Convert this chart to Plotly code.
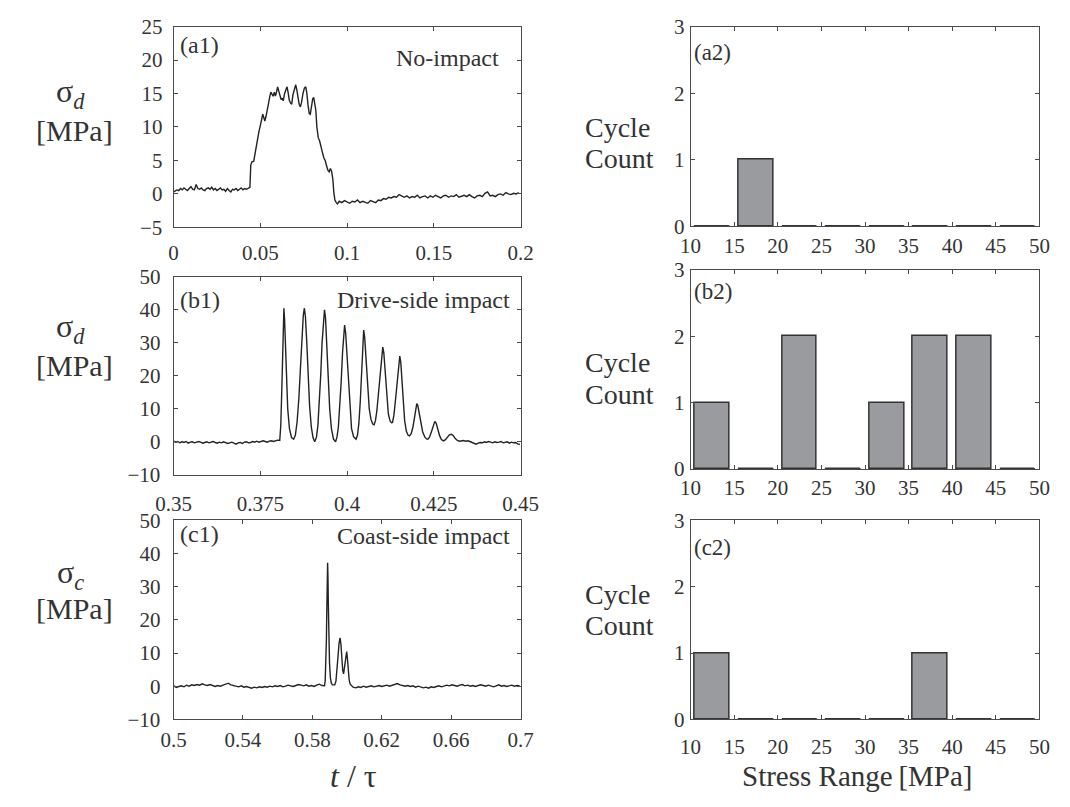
import numpy as np
import plotly.graph_objects as go

W, H = 1070, 807
SERIF = "Liberation Serif"
INK = "#222222"
AXC = "#4a4a4a"
TXT = "#333333"

# ---------------- stress histories ----------------
# (a1) no impact: baseline before the event, event samples (t, value), baseline after
a_pre_t0, a_pre_dt = 0.0, 0.001
a_pre = [0.3, 0.4, 0.6, 0.5, 0.8, 0.6, 0.9, 0.7, 0.5, 0.8, 1.1, 0.7, 0.6, 1.4, 0.8,
         0.7, 0.9, 0.6, 0.5, 0.8, 0.9, 0.7, 1.0, 0.6, 0.8, 0.5, 0.7, 0.9, 0.6, 0.7,
         0.4, 0.8, 0.5, 0.3, 0.7, 0.6, 0.8, 0.5, 0.7, 0.9, 0.6, 0.8, 0.7, 0.9, 1.0]
a_evt = [(0.0445, 4.3), (0.0452, 4.8), (0.0462, 4.9), (0.0468, 5.8), (0.0476, 7.2),
         (0.0484, 8.6), (0.0492, 9.3), (0.0500, 10.2), (0.0508, 11.0), (0.0514, 11.9),
         (0.0519, 11.5), (0.0526, 10.9), (0.0533, 11.6), (0.0540, 12.8), (0.0548, 13.6),
         (0.0555, 14.6), (0.0561, 15.2), (0.0567, 14.9), (0.0574, 14.6), (0.0581, 15.2),
         (0.0587, 14.6), (0.0594, 15.3), (0.0600, 16.0), (0.0606, 15.4), (0.0613, 14.5),
         (0.0620, 14.1), (0.0626, 14.3), (0.0632, 13.9), (0.0640, 15.0), (0.0648, 15.7),
         (0.0654, 16.0), (0.0660, 15.2), (0.0667, 14.0), (0.0674, 13.6), (0.0681, 13.4),
         (0.0688, 14.8), (0.0696, 15.8), (0.0704, 16.3), (0.0710, 15.6), (0.0717, 14.2),
         (0.0724, 13.4), (0.0731, 13.0), (0.0738, 13.7), (0.0746, 15.0), (0.0754, 15.8),
         (0.0762, 16.0), (0.0768, 15.1), (0.0775, 13.3), (0.0782, 12.0), (0.0788, 11.9),
         (0.0795, 13.2), (0.0802, 14.2), (0.0808, 14.4), (0.0813, 13.6), (0.0820, 12.5),
         (0.0826, 10.0), (0.0834, 8.4), (0.0842, 7.9), (0.0850, 6.8), (0.0858, 6.2),
         (0.0866, 5.4), (0.0874, 5.0), (0.0882, 4.2), (0.0890, 3.5), (0.0897, 3.3),
         (0.0904, 3.8), (0.0911, 3.4), (0.0918, 2.2), (0.0924, 0.2), (0.0930, -0.9),
         (0.0938, -1.3), (0.0945, -1.5)]
a_post_t0, a_post_dt = 0.0955, 0.0015
a_post = [-1.1, -1.3, -1.0, -1.2, -1.4, -1.1, -1.2, -0.9, -1.3, -1.1,
          -1.2, -1.4, -1.0, -1.2, -1.3, -0.9, -1.0, -0.7, -0.8, -0.5,
          -0.6, -0.4, -0.5, -0.1, -0.3, -0.5, -0.3, -0.6, -0.4, -0.5,
          -0.2, -0.6, -0.4, -0.3, -0.6, -0.3, -0.5, -0.2, -0.4, -0.6,
          -0.3, -0.2, -0.5, -0.3, -0.4, -0.1, -0.5, -0.3, -0.2, -0.4,
          -0.1, -0.4, -0.6, -0.3, -0.2, -0.4, 0.1, 0.3, -0.3, -0.2,
          -0.4, -0.1, 0.0, -0.2, 0.2, 0.0, -0.1, 0.1, 0.0, 0.2]

# (b1) drive-side impact
b_pre_t0, b_pre_dt = 0.35, 0.0006
b_pre = [0.2, -0.1, 0.1, -0.3, 0.0, -0.2, 0.1, -0.4, -0.1, 0.0,
         -0.3, -0.2, 0.1, -0.1, -0.4, -0.2, 0.0, -0.3, -0.1, 0.1,
         -0.2, -0.4, -0.1, -0.3, 0.0, -0.2, -0.5, -0.3, -0.1, -0.4,
         -0.7, -0.3, -0.2, -0.5, -0.1, 0.0, -0.3, -0.2, 0.1, -0.1,
         0.2, -0.1, 0.0, 0.3, 0.1, -0.1, 0.2, 0.3, 0.1, 0.4, 0.5]
b_evt = [(0.3806, 0.4), (0.3809, 5), (0.3812, 16), (0.3814, 27), (0.3816, 36), (0.3818, 40.5),
         (0.3820, 37), (0.3822, 30), (0.3825, 20), (0.3829, 10), (0.3834, 4), (0.3840, 1.3),
         (0.3846, 0.8),
         (0.3851, 2.0), (0.3856, 6), (0.3861, 13), (0.3866, 23), (0.3870, 32), (0.3874, 38.5),
         (0.3877, 40.5), (0.3880, 38), (0.3884, 30), (0.3888, 20), (0.3892, 11), (0.3897, 4.5),
         (0.3902, 1.2), (0.3907, 0.0),
         (0.3912, 1.5), (0.3916, 5), (0.3920, 11), (0.3924, 20), (0.3928, 30), (0.3932, 37.5),
         (0.3935, 40), (0.3938, 37.5), (0.3942, 29), (0.3946, 19), (0.3950, 10), (0.3955, 4),
         (0.3961, 0.8), (0.3967, 0.0),
         (0.3971, 1.5), (0.3975, 4.5), (0.3979, 10), (0.3983, 18), (0.3987, 27), (0.3990, 33),
         (0.3993, 35.4), (0.3996, 33), (0.4000, 26), (0.4004, 17), (0.4008, 9.5), (0.4013, 4),
         (0.4019, 1.5), (0.4026, 0.8),
         (0.4030, 2), (0.4034, 5.5), (0.4038, 12), (0.4041, 19), (0.4044, 27), (0.4046, 31.5),
         (0.4048, 33.9), (0.4051, 31.5), (0.4055, 24), (0.4059, 16), (0.4064, 10), (0.4069, 6.8),
         (0.4074, 5.4), (0.4078, 5.2),
         (0.4082, 6.5), (0.4086, 9.5), (0.4090, 14), (0.4094, 20), (0.4098, 25.5), (0.4101, 28),
         (0.4103, 28.7), (0.4106, 27), (0.4110, 21), (0.4114, 14), (0.4119, 8.5), (0.4124, 6.3),
         (0.4128, 5.8), (0.4131, 5.9),
         (0.4135, 8), (0.4139, 12), (0.4143, 17), (0.4147, 22), (0.4150, 25), (0.4152, 26),
         (0.4155, 24), (0.4158, 19), (0.4162, 12), (0.4166, 6.5), (0.4171, 3.2), (0.4176, 2.0),
         (0.4180, 1.8),
         (0.4185, 2.5), (0.4190, 4.5), (0.4194, 7), (0.4198, 10), (0.4201, 11.6), (0.4204, 11),
         (0.4208, 8.5), (0.4213, 5.5), (0.4218, 3.0), (0.4224, 1.5), (0.4229, 0.9), (0.4233, 0.8),
         (0.4238, 1.5), (0.4243, 3), (0.4248, 5), (0.4253, 6.2), (0.4257, 5.6), (0.4262, 3.6),
         (0.4267, 1.8), (0.4272, 0.7), (0.4278, 0.3),
         (0.4283, 0.6), (0.4289, 1.4), (0.4295, 2.1), (0.4301, 2.3), (0.4306, 1.9), (0.4312, 1.0),
         (0.4318, 0.4), (0.4324, 0.2)]
b_post_t0, b_post_dt = 0.4330, 0.0006
b_post = [0.3, 0.4, 0.2, 0.3, 0.1, -0.2, -0.6, -0.7, -0.4, -0.2,
          -0.3, 0.0, -0.2, 0.1, -0.1, -0.3, 0.0, -0.2, -0.1, 0.1,
          -0.3, -0.2, 0.0, -0.4, -0.1, -0.3, -0.2, -0.6, -0.8]

# (c1) coast-side impact
c_pre_t0, c_pre_dt = 0.5, 0.0015
c_pre = [0.2, -0.4, -0.1, 0.1, -0.2, 0.3, 0.0, 0.4, 0.2, 0.5,
         0.3, 0.7, 0.4, 0.2, 0.5, 0.1, -0.1, 0.2, 0.0, 0.3,
         0.6, 0.9, 0.4, 0.2, 0.0, -0.2, 0.1, -0.3, -0.1, -0.4,
         -0.6, -0.3, -0.5, -0.2, -0.4, -0.1, -0.3, 0.0, -0.2, 0.1,
         -0.1, 0.2, -0.2, 0.0, 0.3, 0.1, -0.1, 0.2, 0.5, 0.3,
         0.1, 0.4, 0.0, 0.2, -0.1, 0.3, 0.6, 0.2, 0.1]
c_evt = [(0.5874, 1.5), (0.5878, 6), (0.5881, 14), (0.5884, 25), (0.5886, 33), (0.5888, 37.2),
         (0.5890, 33), (0.5892, 25), (0.5895, 15), (0.5899, 7), (0.5904, 2.5), (0.5910, 0.8),
         (0.5916, 0.4), (0.5922, 0.3), (0.5929, 0.4), (0.5936, 1.5), (0.5942, 4.5), (0.5948, 9),
         (0.5954, 13), (0.5960, 14.6), (0.5965, 12.5), (0.5970, 8), (0.5975, 4.8), (0.5980, 3.7),
         (0.5985, 5.5), (0.5990, 8.5), (0.5995, 10.2), (0.5998, 10.4), (0.6002, 8.5), (0.6007, 5),
         (0.6012, 2), (0.6018, 0.6), (0.6025, 0.2)]
c_post_t0, c_post_dt = 0.6035, 0.0015
c_post = [-0.3, -0.5, -0.2, -0.4, 0.0, -0.3, -0.1, 0.1, -0.2, 0.0,
          0.2, -0.1, 0.1, 0.3, 0.0, 0.2, 0.5, 0.8, 0.4, 0.2,
          0.0, 0.2, -0.1, 0.1, -0.3, 0.0, -0.2, -0.5, -0.3, -0.6,
          -0.2, -0.4, -0.1, 0.1, -0.2, 0.0, 0.3, 0.1, 0.4, 0.2,
          0.0, 0.3, 0.5, 0.1, 0.3, 0.0, 0.2, -0.1, 0.1, 0.4,
          0.2, 0.0, 0.3, 0.1, -0.2, 0.1, 0.4, 0.0, 0.2, -0.1,
          0.1, 0.3, 0.0, 0.2, 0.1]

# ---------------- rainflow cycle counts ----------------
bin_centers = [12.5, 17.5, 22.5, 27.5, 32.5, 37.5, 42.5, 47.5]
bar_width = 4.0
counts_a = [0, 1, 0, 0, 0, 0, 0, 0]
counts_b = [1, 0, 2, 0, 1, 2, 2, 0]
counts_c = [1, 0, 0, 0, 0, 1, 0, 0]


def series(t0, dt, pre, evt, t1, dt1, post):
    t_pre = t0 + dt * np.arange(len(pre))
    t_evt, v_evt = zip(*evt)
    t_post = t1 + dt1 * np.arange(len(post))
    t = np.concatenate([t_pre, t_evt, t_post])
    v = np.concatenate([pre, v_evt, post])
    return t, v


ta, va = series(a_pre_t0, a_pre_dt, a_pre, a_evt, a_post_t0, a_post_dt, a_post)
tb, vb = series(b_pre_t0, b_pre_dt, b_pre, b_evt, b_post_t0, b_post_dt, b_post)
tc, vc = series(c_pre_t0, c_pre_dt, c_pre, c_evt, c_post_t0, c_post_dt, c_post)

fig = go.Figure()
line_style = dict(color=INK, width=1.4)
fig.add_trace(go.Scatter(x=ta, y=va, mode="lines", line=line_style, xaxis="x", yaxis="y"))
fig.add_trace(go.Scatter(x=tb, y=vb, mode="lines", line=line_style, xaxis="x3", yaxis="y3"))
fig.add_trace(go.Scatter(x=tc, y=vc, mode="lines", line=line_style, xaxis="x5", yaxis="y5"))


def add_hist(counts, xa, ya):
    fig.add_trace(go.Bar(x=bin_centers, y=counts, width=bar_width,
                         marker=dict(color="#9a9b9f", line=dict(color="#333333", width=1.5)),
                         xaxis=xa, yaxis=ya))
    # empty bins still leave their flat outline on the baseline
    zx, zy = [], []
    for c, n in zip(bin_centers, counts):
        if n == 0:
            zx += [c - bar_width / 2, c + bar_width / 2, None]
            zy += [n, n, None]
    fig.add_trace(go.Scatter(x=zx, y=zy, mode="lines", line=dict(color="#333333", width=2),
                             xaxis=xa, yaxis=ya, cliponaxis=False))


add_hist(counts_a, "x2", "y2")
add_hist(counts_b, "x4", "y4")
add_hist(counts_c, "x6", "y6")


def xdom(l, r):
    return [l / W, r / W]


def ydom(top, bot):
    return [1 - bot / H, 1 - top / H]


def axis_style(**kw):
    d = dict(showline=True, linecolor=AXC, linewidth=1, mirror="ticks", ticks="inside",
             ticklen=4, tickcolor=AXC, showgrid=False, zeroline=False,
             tickfont=dict(family=SERIF, size=21, color=TXT))
    d.update(kw)
    return d


XL = xdom(161, 520)
XR = xdom(696, 1057)
bin_ticks = [10, 15, 20, 25, 30, 35, 40, 45, 50]

fig.update_layout(
    width=W, height=H, margin=dict(l=0, r=0, t=0, b=0),
    paper_bgcolor="white", plot_bgcolor="white", showlegend=False,
    font=dict(family=SERIF, color=TXT),
    bargap=0,
    xaxis=axis_style(domain=XL, range=[0, 0.2], anchor="y",
                     tickvals=[0, 0.05, 0.1, 0.15, 0.2],
                     ticktext=["0", "0.05", "0.1", "0.15", "0.2"], ticklabelstandoff=6),
    yaxis=axis_style(domain=ydom(15, 222), range=[-5, 25], anchor="x",
                     tickvals=[-5, 0, 5, 10, 15, 20, 25], ticklabelstandoff=6),
    xaxis3=axis_style(domain=XL, range=[0.35, 0.45], anchor="y3",
                      tickvals=[0.35, 0.375, 0.4, 0.425, 0.45],
                      ticktext=["0.35", "0.375", "0.4", "0.425", "0.45"], ticklabelstandoff=10),
    yaxis3=axis_style(domain=ydom(273, 477), range=[-10, 50], anchor="x3",
                      tickvals=[-10, 0, 10, 20, 30, 40, 50], ticklabelstandoff=8),
    xaxis5=axis_style(domain=XL, range=[0.5, 0.7], anchor="y5",
                      tickvals=[0.5, 0.54, 0.58, 0.62, 0.66, 0.7],
                      ticktext=["0.5", "0.54", "0.58", "0.62", "0.66", "0.7"], ticklabelstandoff=1),
    yaxis5=axis_style(domain=ydom(524, 729), range=[-10, 50], anchor="x5",
                      tickvals=[-10, 0, 10, 20, 30, 40, 50], ticklabelstandoff=8),
    xaxis2=axis_style(domain=XR, range=[10, 50], anchor="y2", tickvals=bin_ticks,
                      ticklabelstandoff=0),
    yaxis2=axis_style(domain=ydom(15, 221), range=[0, 3], anchor="x2", tickvals=[0, 1, 2, 3],
                      ticklabelstandoff=1),
    xaxis4=axis_style(domain=XR, range=[10, 50], anchor="y4", tickvals=bin_ticks,
                      ticklabelstandoff=0),
    yaxis4=axis_style(domain=ydom(266, 471), range=[0, 3], anchor="x4", tickvals=[0, 1, 2, 3],
                      ticklabelstandoff=1),
    xaxis6=axis_style(domain=XR, range=[10, 50], anchor="y6", tickvals=bin_ticks,
                      ticklabelstandoff=8),
    yaxis6=axis_style(domain=ydom(524, 729), range=[0, 3], anchor="x6", tickvals=[0, 1, 2, 3],
                      ticklabelstandoff=1),
)


def note(text, x, y, size, xanchor="center"):
    fig.add_annotation(text=text, x=x / W, y=1 - y / H, xref="paper", yref="paper",
                       xanchor=xanchor, yanchor="middle", showarrow=False,
                       font=dict(family=SERIF, size=size, color=TXT))


# panel tags and case names
note("(a1)", 166, 34, 24, "left")
note("No-impact", 500, 47, 24, "right")
note("(b1)", 166, 297, 24, "left")
note("Drive-side impact", 511, 297, 24, "right")
note("(c1)", 166, 538, 24, "left")
note("Coast-side impact", 511, 540, 24, "right")
note("(a2)", 697, 42, 23, "left")
note("(b2)", 697, 288, 23, "left")
note("(c2)", 697, 552, 23, "left")

# axis titles
for sym, ys, ym in [("d", 84, 122), ("d", 326, 364), ("c", 580, 615)]:
    note("σ<sub><i>%s</i></sub>" % sym, 54, ys, 32)
    note("[MPa]", 58, ym, 30)
for yc, yn in [(119, 151), (361, 394), (600, 632)]:
    note("Cycle", 620, yc, 28)
    note("Count", 622, yn, 28)
note("<i>t</i> / τ", 347, 787, 32)
note("Stress Range\u2009[MPa]", 869, 787, 29)

fig.write_html("out.html")
